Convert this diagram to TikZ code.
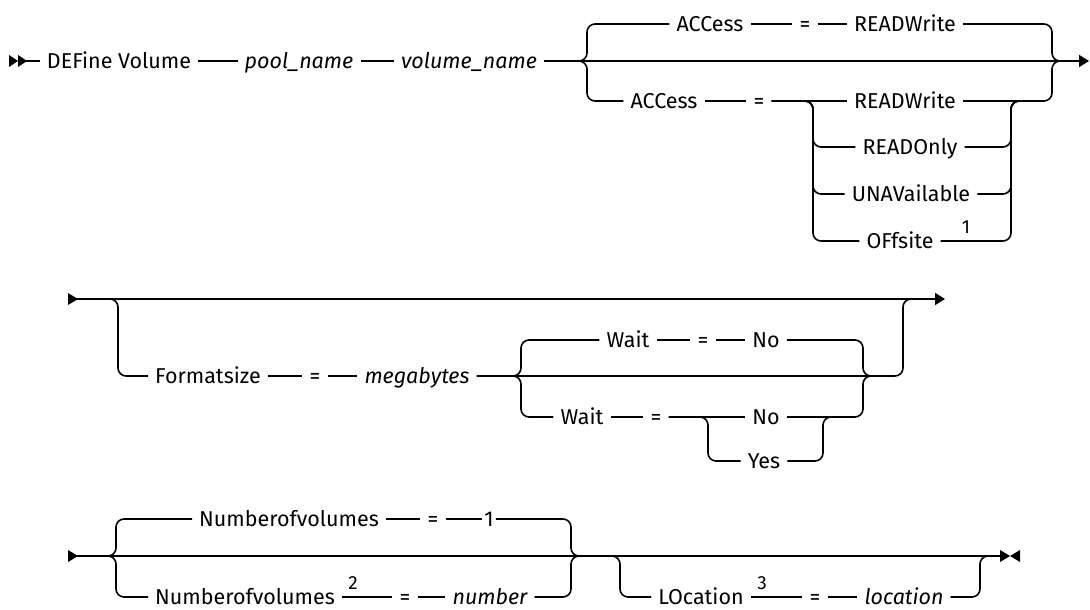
\documentclass[tikz,border=0pt]{standalone}
\usepackage{fontspec}
\setmainfont{Fira Sans}
\usetikzlibrary{arrows.meta}
\tikzset{
  rail/.style={line width=1.6pt, rounded corners=8pt},
  railend/.style={-{Triangle[length=10pt,width=12pt]}},
  kw/.style={font=\fontsize{21.5}{24}\selectfont, inner xsep=7pt, inner ysep=0pt, text height=14.8pt, text depth=0pt},
  var/.style={kw, font=\fontsize{21.5}{24}\selectfont\itshape},
  fn/.style={font=\fontsize{19}{21}\selectfont, inner sep=0pt},
}
\begin{document}
\begin{tikzpicture}[x=1pt, y=-1pt]
    \useasboundingbox (0,0) rectangle (1090,610);

    % First line: DEFine Volume pool_name volume_name
    \fill (9,55) -- (18,61) -- (9,67) -- cycle;
    \fill (18,55) -- (27,61) -- (18,67) -- cycle;
    \coordinate (s1) at (20,61);
    \coordinate (e1) at (1089,61);
    \node[kw] (define) at (119,61) {DEFine Volume};
    \node[var] (pool) at (299,61) {pool\_name};
    \node[var] (vol) at (469,61) {volume\_name};
    \draw[rail] (s1) -- (define.west);
    \draw[rail] (define.east) -- (pool.west);
    \draw[rail] (pool.east) -- (vol.west);
    \draw[rail, railend] (vol.east) -- (e1);

    % ACCess group (default above the line)
    \coordinate (b1l) at (587,61);
    \coordinate (b1r) at (1052,61);
    \node[kw] (acc1) at (710,24) {ACCess};
    \node[kw] (eq1) at (805,24) {=};
    \node[kw] (rw1) at (905,24) {READWrite};
    \draw[rail] ([xshift=-10pt]b1l) -- (b1l) -- (b1l |- acc1) -- (acc1.west);
    \draw[rail] (acc1.east) -- (eq1.west);
    \draw[rail] (eq1.east) -- (rw1.west);
    \draw[rail] (rw1.east) -- (b1r |- rw1) -- (b1r) -- ([xshift=10pt]b1r);

    % ACCess = choice
    \coordinate (c1l) at (813,101);
    \coordinate (c1r) at (1011,101);
    \node[kw] (acc2) at (664,101) {ACCess};
    \node[kw] (eq2) at (759,101) {=};
    \node[kw] (rw2) at (905,101) {READWrite};
    \node[kw] (rdo) at (910,147) {READOnly};
    \node[kw] (una) at (911,194) {UNAVailable};
    \node[kw] (ofs) at (900,241) {OFfsite};
    \node[fn] (fn1) at (966,227) {1};
    \draw[rail] ([xshift=-10pt]b1l) -- (b1l) -- (b1l |- acc2) -- (acc2.west);
    \draw[rail] (acc2.east) -- (eq2.west);
    \draw[rail] (eq2.east) -- (rw2.west);
    \draw[rail] (rw2.east) -- (b1r |- rw2) -- (b1r) -- ([xshift=10pt]b1r);
    \foreach \opt in {rdo, una, ofs} {
        \draw[rail] (eq2.east) -- (c1l) -- (c1l |- \opt) -- (\opt.west);
        \draw[rail] (\opt.east) -- (c1r |- \opt) -- (c1r) -- ([xshift=20pt]c1r);
    }

    % Second line: Formatsize
    \coordinate (s2) at (68,299);
    \coordinate (e2) at (945,299);
    \fill (s2) ++(0,-6) -- ++(10,6) -- ++(-10,6) -- cycle;
    \draw[rail, railend] (s2) -- (e2);
    \coordinate (f2l) at (118,299);
    \coordinate (f2r) at (903,299);
    \node[kw] (fmt) at (208,376) {Formatsize};
    \node[kw] (eq3) at (315,376) {=};
    \node[var] (mb) at (417,376) {megabytes};
    \draw[rail] ([xshift=-10pt]f2l) -- (f2l) -- (f2l |- fmt) -- (fmt.west);
    \draw[rail] (fmt.east) -- (eq3.west);
    \draw[rail] (eq3.east) -- (mb.west);
    \draw[rail] (mb.east) -- (f2r |- mb) -- (f2r) -- ([xshift=10pt]f2r);

    % Wait group
    \coordinate (w2l) at (521,376);
    \coordinate (w2r) at (863,376);
    \coordinate (y2l) at (708,417);
    \coordinate (y2r) at (823,417);
    \node[kw] (wt) at (628,340) {Wait};
    \node[kw] (eq4) at (703,340) {=};
    \node[kw] (no1) at (766,340) {No};
    \node[kw] (wb) at (582,417) {Wait};
    \node[kw] (eq5) at (656,417) {=};
    \node[kw] (no2) at (766,417) {No};
    \node[kw] (yes) at (764,461) {Yes};
    \draw[rail] ([xshift=-10pt]w2l) -- (w2l) -- (w2l |- wt) -- (wt.west);
    \draw[rail] ([xshift=-10pt]w2l) -- (w2l) -- (w2l |- wb) -- (wb.west);
    \draw[rail] (wt.east) -- (eq4.west);
    \draw[rail] (eq4.east) -- (no1.west);
    \draw[rail] (no1.east) -- (w2r |- no1) -- (w2r) -- ([xshift=10pt]w2r);
    \draw[rail] (wb.east) -- (eq5.west);
    \draw[rail] (eq5.east) -- (no2.west);
    \draw[rail] (no2.east) -- (w2r |- no2) -- (w2r) -- ([xshift=10pt]w2r);
    \draw[rail] (eq5.east) -- (y2l) -- (y2l |- yes) -- (yes.west);
    \draw[rail] (yes.east) -- (y2r |- yes) -- (y2r) -- ([xshift=-8pt]w2r |- y2r);

    % Third line: Numberofvolumes and LOcation
    \coordinate (s3) at (68,556);
    \coordinate (e3) at (1000,556);
    \fill (s3) ++(0,-6) -- ++(10,6) -- ++(-10,6) -- cycle;
    \draw[rail] (s3) -- (e3);
    \fill (1000,550) -- (1010,556) -- (1000,562) -- cycle;
    \fill (1020,550) -- (1010,556) -- (1020,562) -- cycle;

    \coordinate (n3l) at (116,556);
    \coordinate (n3r) at (571,556);
    \node[kw] (nt) at (289,519) {Numberofvolumes};
    \node[kw] (eq6) at (433,519) {=};
    \node[kw, inner xsep=2pt] (one) at (489,519) {1};
    \node[kw] (nb) at (245,597) {Numberofvolumes};
    \node[fn] (fn2) at (353,583) {2};
    \node[kw] (eq7) at (405,597) {=};
    \node[var] (num) at (490,597) {number};
    \draw[rail] ([xshift=-10pt]n3l) -- (n3l) -- (n3l |- nt) -- (nt.west);
    \draw[rail] ([xshift=-10pt]n3l) -- (n3l) -- (n3l |- nb) -- (nb.west);
    \draw[rail] (nt.east) -- (eq6.west);
    \draw[rail] (eq6.east) -- (one.west);
    \draw[rail] (one.east) -- (n3r |- one) -- (n3r) -- ([xshift=10pt]n3r);
    \draw[rail] (nb.east) -- (eq7.west);
    \draw[rail] (eq7.east) -- (num.west);
    \draw[rail] (num.east) -- (n3r |- num) -- (n3r) -- ([xshift=10pt]n3r);

    \coordinate (l3l) at (620,556);
    \coordinate (l3r) at (980,556);
    \node[kw] (loc) at (701,597) {LOcation};
    \node[fn] (fn3) at (762,583) {3};
    \node[kw] (eq8) at (815,597) {=};
    \node[var] (locv) at (904,597) {location};
    \draw[rail] ([xshift=-10pt]l3l) -- (l3l) -- (l3l |- loc) -- (loc.west);
    \draw[rail] (loc.east) -- (eq8.west);
    \draw[rail] (eq8.east) -- (locv.west);
    \draw[rail] (locv.east) -- (l3r |- locv) -- (l3r) -- ([xshift=10pt]l3r);
\end{tikzpicture}
\end{document}
